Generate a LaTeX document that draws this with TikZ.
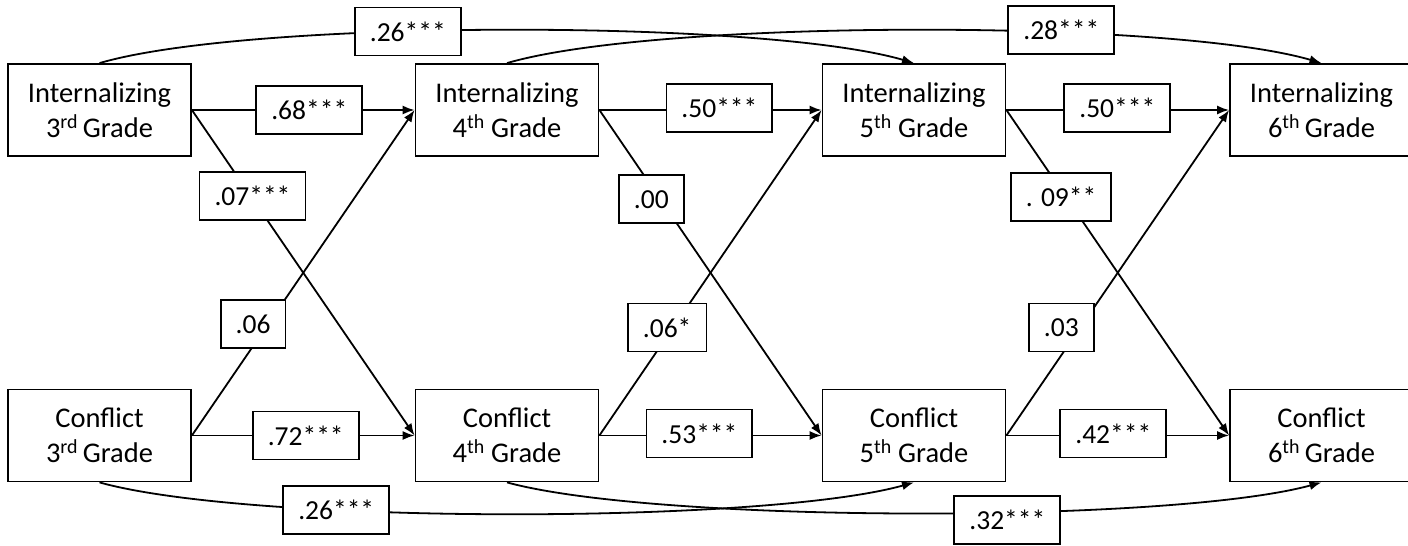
\documentclass[tikz,border=0pt]{standalone}
\usepackage{fontspec}
\setmainfont{Carlito}
\usetikzlibrary{arrows.meta}
\begin{document}
\begin{tikzpicture}[x=1pt,y=-1pt,
  var/.style={draw, line width=1.8pt, minimum width=183pt, minimum height=92pt, align=center, inner sep=0pt, font=\fontsize{28.5}{35}\selectfont},
  lab/.style={draw, fill=white, line width=1.8pt, minimum height=48pt, inner xsep=15pt, inner ysep=0pt, font=\fontsize{27.5}{32}\selectfont},
  arr/.style={line width=1.8pt, -{Latex[length=12pt,width=9pt]}}]
\useasboundingbox (0,0) rectangle (1408,546);
% variables
\node[var] (i3) at (99.5,110) {Internalizing\\3\textsuperscript{rd}\,Grade};
\node[var] (i4) at (507,110) {Internalizing\\4\textsuperscript{th} Grade};
\node[var] (i5) at (914,110) {Internalizing\\5\textsuperscript{th} Grade};
\node[var] (i6) at (1321.5,110) {Internalizing\\6\textsuperscript{th}\,Grade};
\node[var] (c3) at (99.5,435.5) {Conflict\\3\textsuperscript{rd}\,Grade};
\node[var] (c4) at (507,435.5) {Conflict\\4\textsuperscript{th} Grade};
\node[var] (c5) at (914,435.5) {Conflict\\5\textsuperscript{th} Grade};
\node[var] (c6) at (1321.5,435.5) {Conflict\\6\textsuperscript{th}\,Grade};
% horizontal paths
\draw[arr] (i3.east) -- node[lab,pos=.527] (l68) {.68***} (i4.west);
\draw[arr] (c3.east) -- node[lab,pos=.511] (l72) {.72***} (c4.west);
\draw[arr] (i4.east) -- node[lab,pos=.54,yshift=2pt] (l50a) {.50***} (i5.west);
\draw[arr] (c4.east) -- node[lab,pos=.45,yshift=2pt] (l53) {.53***} (c5.west);
\draw[arr] (i5.east) -- node[lab,pos=.498,yshift=2pt] (l50b) {.50***} (i6.west);
\draw[arr] (c5.east) -- node[lab,pos=.48,yshift=2pt] (l42) {.42***} (c6.west);
% cross paths
\draw[arr] (i3.east) -- node[lab,pos=.263,xshift=2pt] (l07) {.07***} (c4.west);
\draw[arr] (c3.east) -- node[lab,pos=.342,xshift=-15pt] (l06a) {.06} (i4.west);
\draw[arr] (i4.east) -- node[lab,pos=.274,xshift=-9pt] (l00) {.00} (c5.west);
\draw[arr] (c4.east) -- node[lab,pos=.332,xshift=-6pt] (l06b) {.06*} (i5.west);
\draw[arr] (i5.east) -- node[lab,pos=.268,xshift=-5pt] (l09) {. 09**} (c6.west);
\draw[arr] (c5.east) -- node[lab,pos=.332,xshift=-19pt] (l03) {.03} (i6.west);
% lag-2 paths
\draw[arr] (i3.north) .. controls +(150,-44) and +(-150,-44) .. node[lab,pos=.4] (l26a) {.26***} (i5.north);
\draw[arr] (i4.north) .. controls +(150,-44) and +(-150,-44) .. node[lab,pos=.65,yshift=3pt] (l28) {.28***} (i6.north);
\draw[arr] (c3.south) .. controls +(150,42) and +(-150,42) .. node[lab,pos=.325] (l26b) {.26***} (c5.south);
\draw[arr] (c4.south) .. controls +(150,41) and +(-150,41) .. node[lab,pos=.594,yshift=-8pt] (l32) {.32***} (c6.south);
\end{tikzpicture}
\end{document}
